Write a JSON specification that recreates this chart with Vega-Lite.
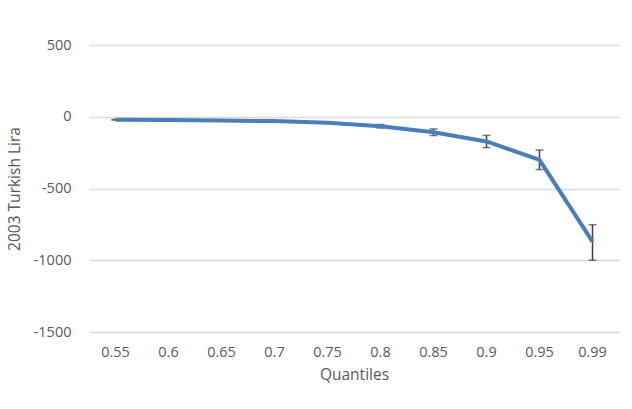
{
  "$schema": "https://vega.github.io/schema/vega-lite/v6.json",
  "width": 530,
  "height": 287,
  "autosize": {"type": "none"},
  "padding": {"left": 89, "top": 45, "right": 13, "bottom": 77},
  "background": "white",
  "config": {
    "view": {"stroke": null},
    "font": "Open Sans"
  },
  "data": {"values": [
    {"q": "0.55", "v": -21, "lo": -23, "hi": -19},
    {"q": "0.6", "v": -22, "lo": -24, "hi": -20},
    {"q": "0.65", "v": -27, "lo": -29, "hi": -25},
    {"q": "0.7", "v": -30, "lo": -32, "hi": -28},
    {"q": "0.75", "v": -42, "lo": -44, "hi": -40},
    {"q": "0.8", "v": -66, "lo": -78, "hi": -54},
    {"q": "0.85", "v": -108, "lo": -131, "hi": -85},
    {"q": "0.9", "v": -172, "lo": -215, "hi": -130},
    {"q": "0.95", "v": -300, "lo": -368, "hi": -232},
    {"q": "0.99", "v": -870, "lo": -1000, "hi": -752}
  ]},
  "encoding": {
    "x": {"field": "q", "type": "ordinal", "sort": null,
      "scale": {"type": "band", "paddingInner": 0, "paddingOuter": 0},
      "axis": {"title": "Quantiles", "labelAngle": 0, "domain": false, "ticks": false, "labelPadding": 13, "titlePadding": 9,
        "labelFont": "Open Sans", "titleFont": "Open Sans", "labelFontSize": 14.5, "titleFontSize": 15.5, "titleFontWeight": "normal", "labelColor": "#595959", "titleColor": "#595959"}}
  },
  "layer": [
    {
      "mark": {"type": "rule", "color": "#404040", "strokeWidth": 1.5},
      "encoding": {
        "y": {"field": "lo", "type": "quantitative",
          "scale": {"domain": [-1500, 500], "nice": false, "zero": false},
          "axis": {"title": "2003 Turkish Lira", "values": [-1500, -1000, -500, 0, 500], "labelExpr": "'' + datum.value", "domain": false, "ticks": false, "labelPadding": 18, "titlePadding": 11, "gridColor": "#d9d9d9", "gridWidth": 1.3,
            "labelFont": "Open Sans", "titleFont": "Open Sans", "labelFontSize": 14.5, "titleFontSize": 15.5, "titleFontWeight": "normal", "labelColor": "#595959", "titleColor": "#595959"}},
        "y2": {"field": "hi"}
      }
    },
    {
      "mark": {"type": "tick", "color": "#404040", "thickness": 1.5, "size": 8, "orient": "horizontal"},
      "encoding": {"y": {"field": "lo", "type": "quantitative"}}
    },
    {
      "mark": {"type": "tick", "color": "#404040", "thickness": 1.5, "size": 8, "orient": "horizontal"},
      "encoding": {"y": {"field": "hi", "type": "quantitative"}}
    },
    {
      "mark": {"type": "line", "color": "#4a7ebb", "strokeWidth": 4, "strokeCap": "butt", "strokeJoin": "round"},
      "encoding": {
        "y": {"field": "v", "type": "quantitative"}
      }
    }
  ]
}
